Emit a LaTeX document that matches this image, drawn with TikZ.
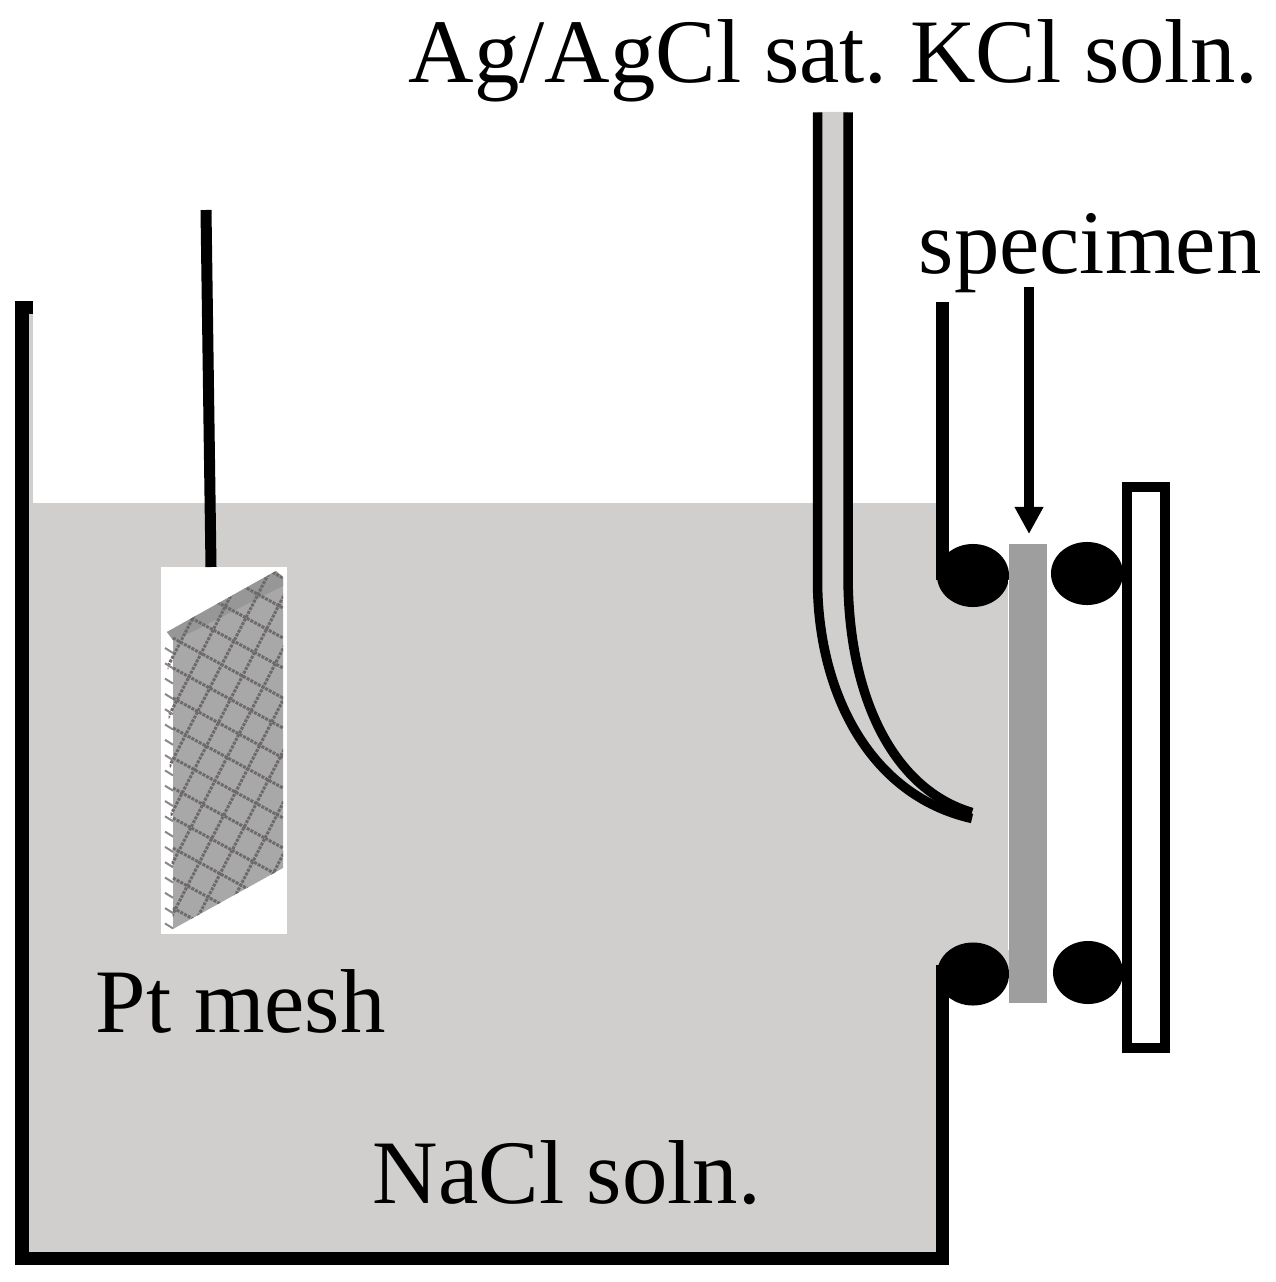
\documentclass[tikz,border=0pt]{standalone}
\usepackage{fontspec}
\setmainfont{Liberation Serif}
\usetikzlibrary{arrows.meta, shapes.geometric}
\definecolor{soln}{HTML}{D0CFCD}
\definecolor{specgray}{HTML}{9E9E9E}
\definecolor{meshgray}{HTML}{A8A8A8}
\definecolor{meshtop}{HTML}{979797}
\definecolor{wiregray}{HTML}{6F6A6A}
\tikzset{
  wall/.style={line width=0.13cm, line cap=butt, line join=miter},
  tube/.style={line width=0.095cm},
  oring/.style={ellipse, fill=black, minimum width=0.72cm, minimum height=0.63cm, inner sep=0pt},
  label/.style={inner sep=0pt, anchor=base west, font=\fontsize{25.8pt}{30pt}\selectfont\frenchspacing},
  meshline/.style={wiregray, line width=0.03cm, dash pattern=on 0.03cm off 0.012cm},
  meshtick/.style={wiregray!80, line width=0.02cm}
}
\begin{document}
\begin{tikzpicture}[x=0.01cm, y=-0.01cm]
\useasboundingbox (0,0) rectangle (1276,1282);
% solution
\fill[soln] (22,503) -- (942,503) -- (942,580) -- (1009,580) -- (1009,970)
  -- (942,970) -- (942,1258) -- (22,1258) -- cycle;
\fill[soln] (22,314) rectangle (33,503);
% tube
\fill[soln] (817.5,112) -- (817.5,580) .. controls (817.5,690) and (868,795) .. (972,818.5)
  -- (972,812.5) .. controls (895,790) and (848,700) .. (848,575) -- (848,112) -- cycle;
\draw[tube] (817.5,112.5) -- (817.5,580) .. controls (817.5,690) and (868,795) .. (972,818.5);
\draw[tube] (848,112.5) -- (848,575) .. controls (848,700) and (895,790) .. (972,812.5);
% vessel
\draw[wall] (22,301) -- (22,1258.5) -- (942.5,1258.5) -- (942.5,965);
\fill (16,301) rectangle (33,314);
\draw[wall] (942.5,302) -- (942.5,580);
% o-rings
\node[oring] (ringa) at (973,575.5) {};
\node[oring] (ringb) at (1087,573.5) {};
\node[oring] (ringc) at (973,974) {};
\node[oring, minimum width=0.70cm] (ringd) at (1088,972.5) {};
% specimen
\draw[white, line width=0.01cm] (1008.5,580) -- (1008.5,950);
\fill[specgray] (1009,544) rectangle (1047,1003);
\coordinate (spectop) at (1029,534);
\coordinate (arrowtop) at (1029,287);
\draw[line width=0.095cm, -{Triangle[length=0.27cm, width=0.27cm]}] (arrowtop) -- (spectop);
% holder
\draw[line width=0.1cm, fill=white] (1127,487) rectangle (1165,1048);
% Pt mesh
\fill[white] (161,567) rectangle (287,934);
\draw[line width=0.11cm] (206,210) -- (211,567);
\fill[meshgray] (167,632) -- (276,571) -- (283,577) -- (283,868) -- (173,929) -- (173,640) -- cycle;
\fill[meshtop] (167,632) -- (276,571) -- (283,577) -- (283,586) -- (180,638) -- (173,640) -- cycle;
\begin{scope}
\clip (167,632) -- (276,571) -- (283,577) -- (283,868) -- (173,929) -- cycle;
\foreach \i in {-4,...,9}
  \draw[meshline] (173,{638+30*\i}) -- (283,{698+30*\i});
\foreach \i in {-1,...,9}
  \draw[meshline] ({191+26.5*\i},570) -- ({191+26.5*\i-190},{570+369});
\end{scope}
\foreach \i in {0,...,18}
  \draw[meshtick] (165,{648+15.3*\i}) -- (173,{653+15.3*\i});
% labels
\node[label] (reference) at (408,83) {Ag/AgCl sat. KCl soln.};
\node[label] (specimen) at (918,274) {specimen};
\node[label] (ptmesh) at (95,1032) {Pt mesh};
\node[label] (nacl) at (372,1203) {NaCl soln.};
\end{tikzpicture}
\end{document}
